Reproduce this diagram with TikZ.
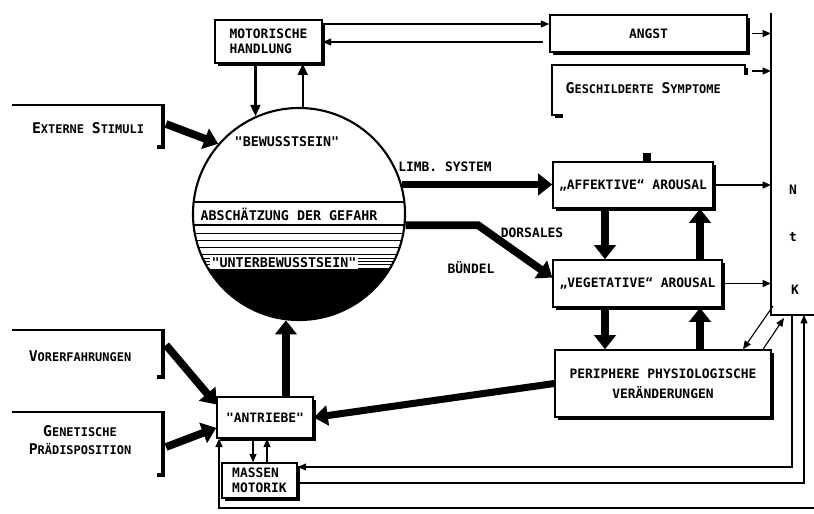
\documentclass[tikz,border=0pt]{standalone}
\usepackage{fontspec}
\usepackage{tikz}
\usetikzlibrary{arrows.meta, shadows, calc}
\newfontfamily\diafont{DejaVu Sans Mono}
\newcommand\initcap[2]{{\fontsize{10.5}{12}\selectfont #1}{\fontsize{8.5}{12}\selectfont #2}}

\tikzset{
  txt/.style={font=\diafont\bfseries\fontsize{9.2}{11}\selectfont, inner sep=1pt},
  bigtxt/.style={txt, font=\diafont\bfseries\fontsize{9.5}{11}\selectfont},
  box/.style={txt, draw, line width=1pt, fill=white,
    drop shadow={opacity=1, fill=black, shadow xshift=2pt, shadow yshift=-2pt}},
  fat/.style={line width=5.5pt, -{Triangle[length=10pt, width=15pt]}},
  mid/.style={line width=1.7pt, -{Triangle[length=8pt, width=7pt]}},
  slim/.style={line width=0.8pt, -{Triangle[length=6pt, width=5pt]}},
  bracket/.style={line width=2.2pt},
}

\begin{document}
\begin{tikzpicture}[x=0.025cm, y=-0.025cm]
				\useasboundingbox (0,0) rectangle (814,513);
				\fill[white] (0,0) rectangle (814,513);
				\clip (0,0) rectangle (814,513);
				
				\coordinate (psyc) at (299,214);
				\coordinate (ntkl) at (771,13);
				\coordinate (ntkb) at (771,315);
				\coordinate (ln1) at (0,24);
				\coordinate (ln2) at (543,42);
				\coordinate (sye) at (752,71);
				\coordinate (bnd) at (478,225);
				\coordinate (cd) at (605,0);
				\coordinate (cu) at (700,0);
				\coordinate (am1) at (253,0);
				\coordinate (am2) at (267,0);
				\coordinate (dg1) at (773,306);
				\coordinate (dg2) at (743,0);
				\coordinate (dg3) at (763,0);
				\coordinate (dg4) at (784,318);
				\coordinate (fb1) at (792,467);
				\coordinate (fb2) at (804,483);
				\coordinate (fb3) at (219,508);
				\coordinate (fb4) at (814,508);
				\coordinate (extb) at (166,124);
				\coordinate (vorb) at (166,345);
				\coordinate (genb) at (166,447);
				
				\begin{scope}
				\clip (psyc) circle[radius=106];
				\fill[black] (180,268) rectangle (420,330);
				\draw[line width=1.1pt] (180,202) -- (420,202);
				\draw[line width=1pt] (180,225) -- (420,225);
				\foreach \yy in {233,240,247,254}
				\draw[line width=0.7pt] (180,\yy) -- (420,\yy);
				\foreach \yy in {258,261,264}
				\draw[line width=0.5pt] (180,\yy) -- (420,\yy);
				\end{scope}
				\node[circle, draw, line width=1.5pt, minimum size=5.3cm, inner sep=0] (psy) at (psyc) {};
				\node[bigtxt] (bew) at (287,142) {"BEWUSSTSEIN"};
				\node[bigtxt] (gef) at (289,214) {ABSCHÄTZUNG DER GEFAHR};
				\node[bigtxt, fill=white] (unb) at (284,263) {"UNTERBEWUSSTSEIN"};
				
				\node[box, minimum width=2.675cm, minimum height=1.075cm, align=left] (motor) at (268.5,41.5) {MOTORISCHE\\HANDLUNG};
				\node[box, minimum width=4.925cm, minimum height=0.925cm] (angst) at (648.5,33.5) {ANGST};
				\node[box, minimum width=4.825cm, minimum height=1.25cm] (sympt) at (648.5,90) {};
				\fill[white] (563,75) rectangle (771,156);
				\node[txt, anchor=west] (symtxt) at (564,88) {\initcap{G}{ESCHILDERTE} \initcap{S}{YMPTOME}};
				\fill[black] (643,153) rectangle (651,162);
				\node[box, minimum width=4cm, minimum height=1.15cm] (affekt) at (633,185) {„AFFEKTIVE“ AROUSAL};
				\node[box, minimum width=4.225cm, minimum height=1.175cm] (veget) at (637.5,283.5) {„VEGETATIVE“ AROUSAL};
				\node[box, minimum width=5.4cm, minimum height=1.675cm, align=center] (periph) at (663,383.5) {PERIPHERE PHYSIOLOGISCHE\\[3pt]VERÄNDERUNGEN};
				\node[box, minimum width=2.4cm, minimum height=1.025cm] (antrieb) at (265,417.5) {"ANTRIEBE"};
				\node[box, minimum width=1.875cm, minimum height=0.875cm, align=left] (massen) at (259.5,480.5) {MASSEN\\MOTORIK};
				
				\draw[line width=1pt] (ntkl) -- (ntkb) -- (830,315);
				\node[txt] (ntkn) at (793,190) {N};
				\node[txt] (ntkt) at (793,237) {t};
				\node[txt] (ntkk) at (795,290) {K};
				
				\node[txt] (ext) at (88,128) {\initcap{E}{XTERNE} \initcap{S}{TIMULI}};
				\draw[line width=0.8pt] (12,105) -- (163,105);
				\draw[bracket] (163,104) -- (163,147) -- (157,147);
				\node[txt] (vor) at (80,356) {\initcap{V}{ORERFAHRUNGEN}};
				\draw[line width=0.8pt] (12,330) -- (163,330);
				\draw[bracket] (163,329) -- (163,377) -- (157,377);
				\node[txt, align=center] (gen) at (80,440) {\initcap{G}{ENETISCHE}\\[2pt]\initcap{P}{RÄDISPOSITION}};
				\draw[line width=0.8pt] (12,412) -- (163,412);
				\draw[bracket] (163,411) -- (163,475) -- (157,475);
				
				\node[txt] (limb) at (445,167) {LIMB. SYSTEM};
				\node[txt] (dors) at (532,233) {DORSALES};
				\node[txt] (buen) at (471,268) {BÜNDEL};
				
				\draw[fat] (extb) -- (psy.139);
				\draw[fat] (vorb) -- (antrieb.165);
				\draw[fat] (genb) -- (antrieb.192);
				\draw[fat] (antrieb.north -| psy.-97) -- (psy.-97);
				\draw[fat] (psy.16) -- (psy.16 -| affekt.west);
				\draw[fat] (psy.-6) -- (psy.-6 -| bnd) -- (veget.176);
				\draw[fat] (affekt.south -| cd) -- (veget.north -| cd);
				\draw[fat] (veget.north -| cu) -- (affekt.south -| cu);
				\draw[fat] (veget.south -| cd) -- (periph.north -| cd);
				\draw[fat] (periph.north -| cu) -- (veget.south -| cu);
				\draw[line width=5pt, -{Triangle[length=10pt, width=14pt]}] (periph.west) -- (antrieb.east);
				
				\draw[mid] (motor.south -| psy.114) -- (psy.114);
				\draw[mid] (psy.88) -- (psy.88 |- motor.south);
				\draw[slim] (motor.east |- ln1) -- (angst.west |- ln1);
				\draw[slim] (ln2) -- (motor.east |- ln2);
				\draw[slim] ([xshift=3pt]angst.east) -- (angst.east -| ntkl);
				\draw[slim] (sye) -- (sye -| ntkl);
				\draw[slim] (affekt.east) -- (affekt.east -| ntkl);
				\draw[slim] (veget.east) -- (veget.east -| ntkl);
				\draw[slim] (dg1) -- (periph.north -| dg2);
				\draw[slim] (periph.north -| dg3) -- (dg4);
				\draw[slim] (antrieb.south -| am1) -- (massen.north -| am1);
				\draw[slim] (massen.north -| am2) -- (antrieb.south -| am2);
				\draw[slim] (ntkb -| fb1) -- (fb1) -- (fb1 -| massen.east);
				\draw[slim] (massen.east |- fb2) -- (fb2) -- (fb2 |- ntkb);
				\draw[slim, line width=1.1pt] (fb4) -- (fb3) -- (fb3 |- antrieb.south);
				\end{tikzpicture}
\end{document}
